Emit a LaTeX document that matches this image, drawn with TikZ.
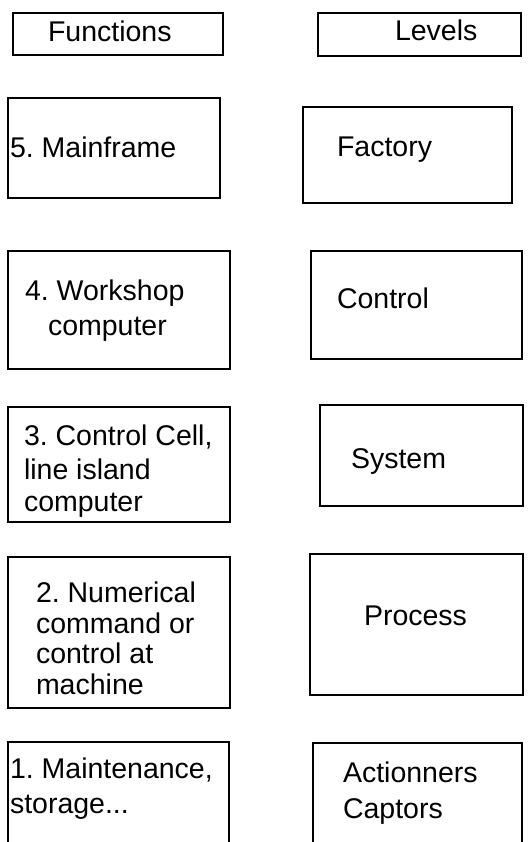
\documentclass[tikz,border=0pt]{standalone}
\usepackage{fontspec}
\setmainfont{Liberation Sans}
\frenchspacing
\begin{document}
\begin{tikzpicture}[x=1pt,y=-1pt,
  cellbox/.style={draw=black,line width=2.8pt,inner sep=0pt,outer sep=0pt,anchor=north west},
  label/.style={inner sep=0pt,outer sep=0pt,anchor=base west,font=\fontsize{28.5}{34}\selectfont}]
\useasboundingbox (0,0) rectangle (527,842);
\clip (0,0) rectangle (527,842);
% #1 name, #2 left, #3 top, #4 right, #5 bottom
\newcommand\cell[5]{\node[cellbox,minimum width=#4-#2,minimum height=#5-#3] (#1) at (#2,#3) {};}

% headings
\cell{hf}{13}{13}{223}{55}
\cell{hl}{318}{13}{521}{56}
\node[label] (thf) at (48,42) {Functions};
\node[label] (thl) at (395,41) {Levels};

% level 5
\cell{f5}{8}{98}{220}{198}
\cell{l5}{303}{107}{512}{203}
\node[label] (tf5) at (10,158) {5. Mainframe};
\node[label] (tl5) at (337,157) {Factory};

% level 4
\cell{f4}{8}{251}{230}{369}
\cell{l4}{311}{251}{522}{359}
\node[label] (tf4a) at (25,300) {4. Workshop};
\node[label] (tf4b) at (48,335) {computer};
\node[label] (tl4) at (337,308) {Control};

% level 3
\cell{f3}{8}{407}{230}{522}
\cell{l3}{320}{405}{523}{506}
\node[label] (tf3a) at (24,445) {3. Control Cell,};
\node[label] (tf3b) at (24,479) {line island};
\node[label] (tf3c) at (24,511) {computer};
\node[label] (tl3) at (351,468) {System};

% level 2
\cell{f2}{8}{557}{230}{708}
\cell{l2}{310}{554}{523}{695}
\node[label] (tf2a) at (36,602) {2. Numerical};
\node[label] (tf2b) at (36,633) {command or};
\node[label] (tf2c) at (36,663) {control at};
\node[label] (tf2d) at (36,694) {machine};
\node[label] (tl2) at (364,625) {Process};

% level 1
\cell{f1}{8}{742}{229}{852}
\cell{l1}{313}{743}{522}{852}
\node[label] (tf1a) at (10,778) {1. Maintenance,};
\node[label] (tf1b) at (10,813) {storage...};
\node[label] (tl1a) at (343,782) {Actionners};
\node[label] (tl1b) at (343,818) {Captors};
\end{tikzpicture}
\end{document}
